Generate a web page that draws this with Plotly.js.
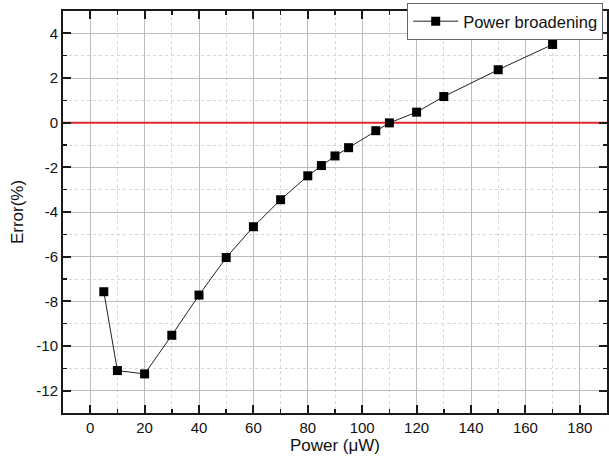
<!DOCTYPE html>
<html>
<head>
<meta charset="utf-8">
<script src="https://cdn.plot.ly/plotly-3.0.1.min.js"></script>
<style>html,body{margin:0;padding:0;background:#fff;}#chart{width:609px;height:459px;}</style>
</head>
<body>
<div id="chart"></div>
<script>
const powerUW = [5, 10, 20, 30, 40, 50, 60, 70, 80, 85, 90, 95, 105, 110, 120, 130, 150, 170];
const errorPct = [-7.57, -11.1, -11.25, -9.52, -7.72, -6.04, -4.66, -3.45, -2.38, -1.92, -1.49, -1.12, -0.36, -0.01, 0.47, 1.17, 2.37, 3.5];
const seriesName = "Power broadening";
const xTickVals = [0, 20, 40, 60, 80, 100, 120, 140, 160, 180];
const xTickText = ["0", "20", "40", "60", "80", "100", "120", "140", "160", "180"];
const yTickVals = [-12, -10, -8, -6, -4, -2, 0, 2, 4];
const yTickText = ["-12", "-10", "-8", "-6", "-4", "-2", "0", "2", "4"];
const refLineX = [-10, 190];
const refLineY = [0, 0];

const traces = [
  {
    x: refLineX, y: refLineY, mode: 'lines', showlegend: false,
    line: {color: '#e32626', width: 2}, hoverinfo: 'skip'
  },
  {
    x: powerUW, y: errorPct, mode: 'lines+markers', name: seriesName,
    line: {color: '#222', width: 1},
    marker: {symbol: 'square', size: 9, color: '#000'}
  }
];

const fontFam = '"Liberation Sans", Arial, sans-serif';
const axisCommon = {
  showline: true, linecolor: '#1a1a1a', linewidth: 2, mirror: 'ticks',
  ticks: 'inside', ticklen: 8, tickwidth: 2, tickcolor: '#1a1a1a',
  showgrid: true, gridcolor: '#bdbdbd', gridwidth: 1,
  zeroline: false,
  tickfont: {family: fontFam, size: 15, color: '#111'}
};

const layout = {
  width: 609, height: 459,
  margin: {l: 63, r: 2, t: 11, b: 46},
  paper_bgcolor: '#fff', plot_bgcolor: '#fff',
  showlegend: true,
  legend: {
    x: 0.993, xanchor: 'right', y: 1.02, yanchor: 'top',
    bgcolor: '#fff', bordercolor: '#666', borderwidth: 1,
    font: {family: fontFam, size: 16.5, color: '#111'},
    itemwidth: 45
  },
  xaxis: Object.assign({}, axisCommon, {
    range: [-10, 190], tickvals: xTickVals, ticktext: xTickText,
    minor: {dtick: 10, tick0: 0, ticks: 'inside', ticklen: 4, tickwidth: 1.5, tickcolor: '#1a1a1a', showgrid: true, gridcolor: '#d6d6d6', griddash: 'dot', gridwidth: 1},
    title: {text: 'Power (\u03bcW)', standoff: 4, font: {family: fontFam, size: 17, color: '#111'}}
  }),
  yaxis: Object.assign({}, axisCommon, {
    range: [-13, 5], tickvals: yTickVals, ticktext: yTickText,
    minor: {dtick: 1, tick0: 0, ticks: 'inside', ticklen: 4, tickwidth: 1.5, tickcolor: '#1a1a1a', showgrid: true, gridcolor: '#d6d6d6', griddash: 'dot', gridwidth: 1},
    title: {text: 'Error(%)', standoff: 8, font: {family: fontFam, size: 17, color: '#111'}}
  })
};

Plotly.newPlot('chart', traces, layout, {displayModeBar: false, staticPlot: true});
</script>
</body>
</html>
